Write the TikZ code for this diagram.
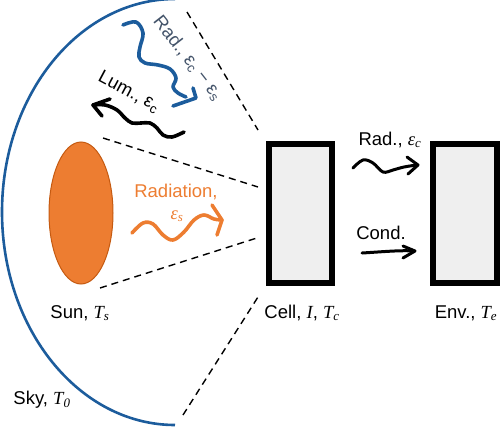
\documentclass[tikz,border=0pt]{standalone}
\usepackage{fontspec}
\setmainfont{Liberation Sans}
\newfontfamily\mathserif{Liberation Serif}
\newcommand\mv[2]{{\mathserif\itshape #1\textsubscript{#2}}}
\newcommand\mvv[1]{{\mathserif\itshape #1}}
\usetikzlibrary{calc,shapes.geometric}
\definecolor{skyblue}{HTML}{1C5C9C}
\definecolor{sunorange}{HTML}{ED7D31}
\definecolor{sunedge}{HTML}{C55A11}
\definecolor{radgray}{HTML}{44546A}
\definecolor{boxfill}{HTML}{EFEFEF}
\begin{document}
\begin{tikzpicture}[x=1pt,y=-1pt,
  font=\fontsize{18.5}{22}\selectfont,
  slab/.style={rectangle, draw=black, line width=6pt, fill=boxfill,
    minimum height=139pt, inner sep=0pt},
  lbl/.style={inner sep=0pt},
  cone/.style={draw=black, line width=1.4pt, dash pattern=on 7pt off 5pt},
  wave/.style={line width=3.6pt, line cap=round, line join=round},
  thinwave/.style={line width=3pt, line cap=round, line join=round}]
\useasboundingbox (0,0) rectangle (500,428);

% sky
\draw[skyblue, line width=2.6pt] (175,-1) arc[start angle=90, end angle=270, x radius=173pt, y radius=213pt];

% sun
\node[ellipse, draw=sunedge, line width=1pt, fill=sunorange,
      minimum width=64pt, minimum height=142pt, inner sep=0pt] (sun) at (81,213) {};

% boxes
\node[slab, minimum width=63pt] (cell) at (300.5,213.5) {};
\node[slab, minimum width=64pt] (env) at (465,213.5) {};

% labels
\node[lbl] (sunlbl) at (80,313) {Sun, \mv{T}{s}};
\node[lbl] (skylbl) at (42,400) {Sky, \mv{T}{0}};
\node[lbl] (celllbl) at (302,313) {Cell, \mvv{I}, \mv{T}{c}};
\node[lbl] (envlbl) at (466,313) {Env., \mv{T}{e}};

% view cone
\coordinate (c1a) at (187,12);  \coordinate (c1b) at (258,130);
\coordinate (c2a) at (103,138); \coordinate (c2b) at (258,187);
\coordinate (c3a) at (100,288); \coordinate (c3b) at (260,237);
\coordinate (c4a) at (183,415); \coordinate (c4b) at (258,297);
\draw[cone] (c1a) -- (c1b);
\draw[cone] (c2a) -- (c2b);
\draw[cone] (c3a) -- (c3b);
\draw[cone] (c4a) -- (c4b);

% solar radiation
\node[lbl, text=sunorange] (radlbl) at (176,192) {Radiation,};
\node[lbl, text=sunorange] (epslbl) at (177,216) {\mv{ε}{s}};
\draw[wave, sunorange] plot[smooth, tension=0.6] coordinates
  {(132,233) (143,223) (153,224) (163,235) (173,240) (184,232) (194,220) (204,215) (214,219) (222,220)};
\draw[wave, sunorange] (212,205) -- (222,220) -- (217,235);

% radiation to sky
\node[lbl, text=radgray, rotate=-52] (skyradlbl) at (188,58) {Rad., ε\textsubscript{c} − ε\textsubscript{s}};
\draw[wave, skyblue] plot[smooth, tension=0.6] coordinates
  {(123,25) (136,22) (143,33) (140,47) (139,57) (145,63) (158,65) (170,69) (176,78) (173,87) (178,93) (186,97)};
\draw[wave, skyblue] (193,88) -- (196,98) -- (173,106);

% luminescence
\node[lbl, rotate=-28] (lumlbl) at (129,92) {Lum., ε\textsubscript{c}};
\draw[wave, black] plot[smooth, tension=0.6] coordinates
  {(93,105) (105,105) (117,110) (125,118) (132,123) (141,123) (150,123) (157,128) (163,135) (172,137) (184,132)};
\draw[wave, black] (110,99) -- (93,105) -- (102,116);

% cell to environment
\node[lbl] (radclbl) at (390,140) {Rad., \mv{ε}{c}};
\draw[thinwave] plot[smooth, tension=0.6] coordinates
  {(353,168) (363,160) (373,163) (383,172) (393,170) (404,167) (417,165)};
\draw[thinwave] (407,157) -- (418,165) -- (408,174);

\node[lbl] (condlbl) at (381,233) {Cond.};
\draw[thinwave] (362,253) .. controls (380,252) and (400,250) .. (414,251);
\draw[thinwave] (403,246) -- (415,251) -- (403,258);
\end{tikzpicture}
\end{document}
